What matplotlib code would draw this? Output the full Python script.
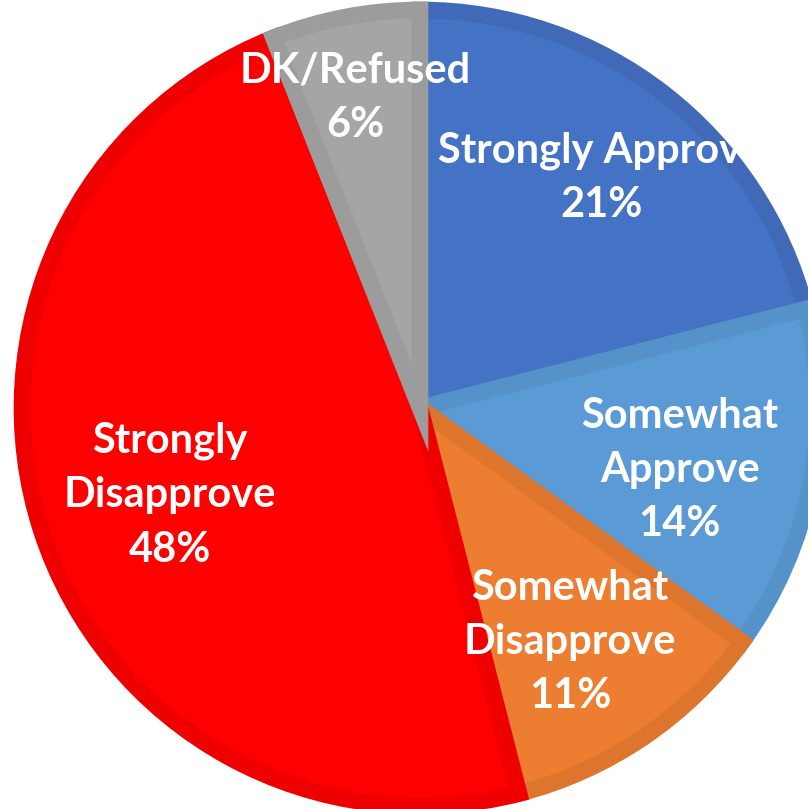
import matplotlib
matplotlib.use("Agg")
import matplotlib.pyplot as plt

categories = ["Strongly Approve", "Somewhat\nApprove", "Somewhat\nDisapprove",
              "Strongly\nDisapprove", "DK/Refused"]
values = [21, 14, 11, 48, 6]

fill_colors = ["#4472C4", "#5B9BD5", "#ED7D31", "#FF0000", "#A5A5A5"]
edge_colors = ["#4069B7", "#5592CA", "#DD752D", "#EE0000", "#9C9C9C"]
# label centres in data units (pie radius = 1)
label_xy = [(0.455, 0.578), (0.653, -0.156), (0.377, -0.588),
            (-0.628, -0.219), (-0.163, 0.779)]

CX, CY, R = 420, 408, 398  # pixel placement of the pie

fig = plt.figure(figsize=(8.08, 8.09), dpi=100)
ax = fig.add_axes([0, 0, 1, 1])
ax.set_axis_off()

wedges, _ = ax.pie(values, startangle=90, counterclock=False, colors=fill_colors,
                   radius=1.0, center=(0, 0), frame=False)
for w, ec in zip(wedges, edge_colors):
    w.set_edgecolor(ec)
    w.set_linewidth(12)
    w.set_joinstyle("miter")
    w.set_clip_path(w)

for cat, v, (x, y) in zip(categories, values, label_xy):
    ax.text(x, y, f"{cat}\n{v}%", ha="center", va="center", color="white",
            fontsize=30, fontweight="bold", family="Lato", linespacing=1.52,
            multialignment="center")

ax.set_xlim(-CX / R, (808 - CX) / R)
ax.set_ylim(-(809 - CY) / R, CY / R)
ax.set_aspect("auto")
fig.savefig("out.png", dpi=100)
